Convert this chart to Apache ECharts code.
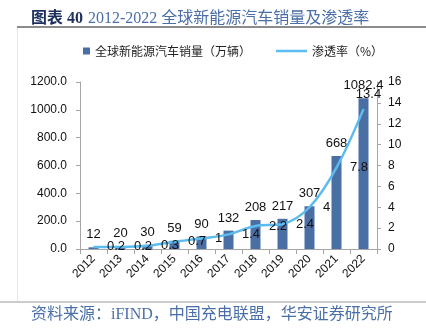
<!DOCTYPE html>
<html><head><meta charset="utf-8">
<script src="https://cdn.jsdelivr.net/npm/echarts@6/dist/echarts.min.js"></script>
<style>html,body{margin:0;padding:0;background:#fff}#c{width:426px;height:329px}</style>
</head><body><div id="c"></div>
<script>
var years = ['2012','2013','2014','2015','2016','2017','2018','2019','2020','2021','2022'];
var sales = [12, 20, 30, 59, 90, 132, 208, 217, 307, 668, 1082.4];
var penetration = [0.2, 0.2, 0.3, 0.7, 1, 1.4, 2.2, 2.4, 4, 7.8, 13.4];
var salesName = '全球新能源汽车销量（万辆）';
var rateName = '渗透率（%）';
var titleLead = '图表 40';
var titleText = '2012-2022 全球新能源汽车销量及渗透率';
var sourceText = '资料来源：iFIND，中国充电联盟，华安证券研究所';

var chart = echarts.init(document.getElementById('c'), null, {renderer:'canvas'});
var axisGray = '#a6a6a6';
var latin = 'Liberation Sans, Arial, sans-serif';
var serif = 'Liberation Serif, Noto Sans CJK SC, serif';
var lineColor = '#5cbcf0';
var barColor = '#4a6fa5';

var lineData = penetration.map(function(v, i){
  if (i === penetration.length - 1) {
    return {value: v, label: {position: 'top', distance: 8, offset: [5, 0]}};
  }
  return v;
});

chart.setOption({
  animation: false,
  title: {
    text: '{a|' + titleLead + '} {b|' + titleText + '}',
    left: 26, top: 5,
    textStyle: {
      fontWeight: 'normal',
      rich: {
        a: {fontFamily: serif, fontSize: 16, fontWeight: 'bold', color: '#1d2f5e'},
        b: {fontFamily: serif, fontSize: 16, fontWeight: 'normal', color: '#4a6fa8'}
      }
    }
  },
  legend: [{
    data: [salesName], left: 78, top: 40, itemWidth: 7, itemHeight: 7, itemGap: 10,
    icon: 'rect',
    textStyle: {fontFamily: 'Noto Sans CJK SC', fontSize: 12, color: '#222'}
  }, {
    data: [rateName], left: 271, top: 40, itemWidth: 31, itemHeight: 2.5,
    icon: 'rect',
    textStyle: {fontFamily: 'Noto Sans CJK SC', fontSize: 12, color: '#222'}
  }],
  grid: {left: 80, right: 49, top: 82, bottom: 80, containLabel: false},
  xAxis: {
    type: 'category', data: years, boundaryGap: true,
    axisLine: {lineStyle: {color: axisGray, width: 1}},
    axisTick: {show: true, length: 5, alignWithLabel: false, lineStyle: {color: axisGray}},
    axisLabel: {rotate: 45, margin: 8, fontSize: 12, color: '#111', fontFamily: latin, interval: 0}
  },
  yAxis: [{
    type: 'value', min: 0, max: 1200, interval: 200,
    axisLine: {show: true, lineStyle: {color: axisGray}},
    axisTick: {show: true, length: 4, lineStyle: {color: axisGray}},
    splitLine: {show: false},
    axisLabel: {margin: 13, fontSize: 12, color: '#111', fontFamily: latin,
      formatter: function(v){ return v.toFixed(1); }}
  }, {
    type: 'value', min: 0, max: 16, interval: 2, position: 'right',
    axisLine: {show: true, lineStyle: {color: axisGray}},
    axisTick: {show: true, length: 4, lineStyle: {color: axisGray}},
    splitLine: {show: false},
    axisLabel: {margin: 11, fontSize: 12, color: '#111', fontFamily: latin}
  }],
  series: [{
    name: salesName, type: 'bar', data: sales, barWidth: 10,
    itemStyle: {color: barColor},
    label: {show: true, position: 'top', distance: 6, fontSize: 13, color: '#111', fontFamily: latin}
  }, {
    name: rateName, type: 'line', yAxisIndex: 1, data: lineData, smooth: 0.35,
    symbol: 'circle', symbolSize: 1, showSymbol: true,
    itemStyle: {color: lineColor},
    lineStyle: {color: lineColor, width: 2.5},
    label: {show: true, position: 'right', distance: 13, fontSize: 13, color: '#111', fontFamily: latin}
  }],
  graphic: [
    {type: 'line', shape: {x1: 17, y1: 27, x2: 426, y2: 27}, style: {stroke: '#8c8c8c', lineWidth: 2}},
    {type: 'line', shape: {x1: 17.5, y1: 28, x2: 17.5, y2: 301}, style: {stroke: '#e6e6e6', lineWidth: 1}},
    {type: 'line', shape: {x1: 0, y1: 302, x2: 426, y2: 302}, style: {stroke: '#9a9a9a', lineWidth: 1}},
    {type: 'text', left: 31, top: 307, style: {text: sourceText, font: '16px Liberation Serif, Noto Sans CJK SC, serif', fill: '#4a6fa8'}}
  ]
});
</script>
</body></html>
